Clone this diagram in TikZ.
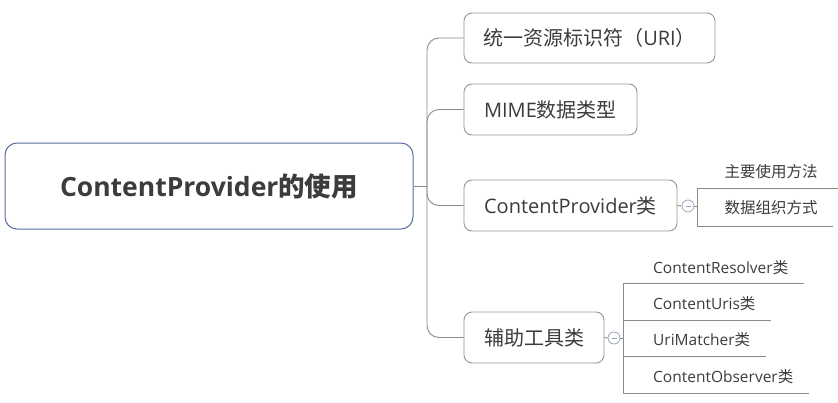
\documentclass[tikz,border=0pt]{standalone}
\usepackage{fontspec}
\setmainfont{Open Sans}
\newfontfamily\cjk{Noto Sans CJK SC}
\newfontfamily\cjkb{Noto Sans CJK SC Bold}
\definecolor{txt}{HTML}{3C3C3C}
\definecolor{boxline}{HTML}{9A9590}
\definecolor{rootline}{HTML}{5A6E9E}
\definecolor{conn}{HTML}{8E8A86}
\definecolor{knob}{HTML}{9AA4B8}
\tikzset{
  topic/.style={draw=boxline, line width=0.9pt, rounded corners=8pt, fill=white, text=txt, font=\fontsize{20}{23}\selectfont, inner sep=0pt},
  rootbox/.style={draw=rootline, line width=1pt, rounded corners=12pt, fill=white, text=txt, font=\fontsize{26.5}{30}\selectfont\bfseries, inner sep=0pt},
  conn/.style={draw=conn, line width=0.9pt},
  knobc/.style={circle, draw=knob, line width=0.8pt, fill=white, minimum size=12pt, inner sep=0pt},
  leaf/.style={text=txt, font=\fontsize{15.5}{18}\selectfont, inner sep=0pt}
}
\begin{document}
\begin{tikzpicture}[x=1pt,y=-1pt]
\useasboundingbox (0,0) rectangle (838,402);
% root
\node[rootbox, minimum width=408pt, minimum height=86pt] (root) at (209,186) {ContentProvider{\cjk\bfseries 的使用}};
% topics
\node[topic, minimum width=251pt, minimum height=50pt] (b1) at (589.5,38) {{\cjk 统一资源标识符（}URI{\cjk ）}};
\node[topic, minimum width=173pt, minimum height=51pt] (b2) at (550.5,109.5) {MIME{\cjk 数据类型}};
\node[topic, minimum width=213pt, minimum height=51pt] (b3) at (570.5,205.5) {ContentProvider{\cjk 类}};
\node[topic, minimum width=140pt, minimum height=51pt] (b4) at (534,337.5) {{\cjk 辅助工具类}};
% trunk
\coordinate (j) at (427,186);
\draw[conn] (root.east) -- (j);
\draw[conn, rounded corners=12pt] (b1.west) -| (j);
\draw[conn, rounded corners=12pt] (b2.west) -| (j);
\draw[conn, rounded corners=12pt] (b3.west) -| (j);
\draw[conn, rounded corners=12pt] (b4.west) -| (j);
% knobs
\node[knobc] (c3) at (688,206) {};
\node[knobc] (c4) at (614,338) {};
\draw[draw=knob, line width=0.8pt] ([xshift=-2.5pt]c3.center) -- ([xshift=2.5pt]c3.center);
\draw[draw=knob, line width=0.8pt] ([xshift=-2.5pt]c4.center) -- ([xshift=2.5pt]c4.center);
\draw[conn] (b3.east) -- (c3.west);
\draw[conn] (b4.east) -- (c4.west);
% ContentProvider children
\coordinate (v3) at (697,206);
\coordinate (u1) at (697,188);
\coordinate (u2) at (697,226);
\coordinate (u1e) at (838,188);
\coordinate (u2e) at (833,226);
\draw[conn] (c3.east) -- (v3);
\draw[conn] (u1e) -- (u1) -- (u2) -- (u2e);
\node[leaf] (k1) at (771,172) {\cjk 主要使用方法};
\node[leaf] (k2) at (771,208) {\cjk 数据组织方式};
% helper children
\coordinate (v4) at (623,338);
\coordinate (w1) at (623,283);
\coordinate (w2) at (623,320);
\coordinate (w3) at (623,356);
\coordinate (w4) at (623,393);
\draw[conn] (c4.east) -- (v4);
\draw[conn] (w1) -- (w4);
\draw[conn] (w1) -- (804,283);
\draw[conn] (w2) -- (771,320);
\draw[conn] (w3) -- (766,356);
\draw[conn] (w4) -- (809,393);
\node[leaf, anchor=west] (h1) at (653,268) {ContentResolver{\cjk 类}};
\node[leaf, anchor=west] (h2) at (653,304) {ContentUris{\cjk 类}};
\node[leaf, anchor=west] (h3) at (653,340) {UriMatcher{\cjk 类}};
\node[leaf, anchor=west] (h4) at (653,377) {ContentObserver{\cjk 类}};
\end{tikzpicture}
\end{document}
